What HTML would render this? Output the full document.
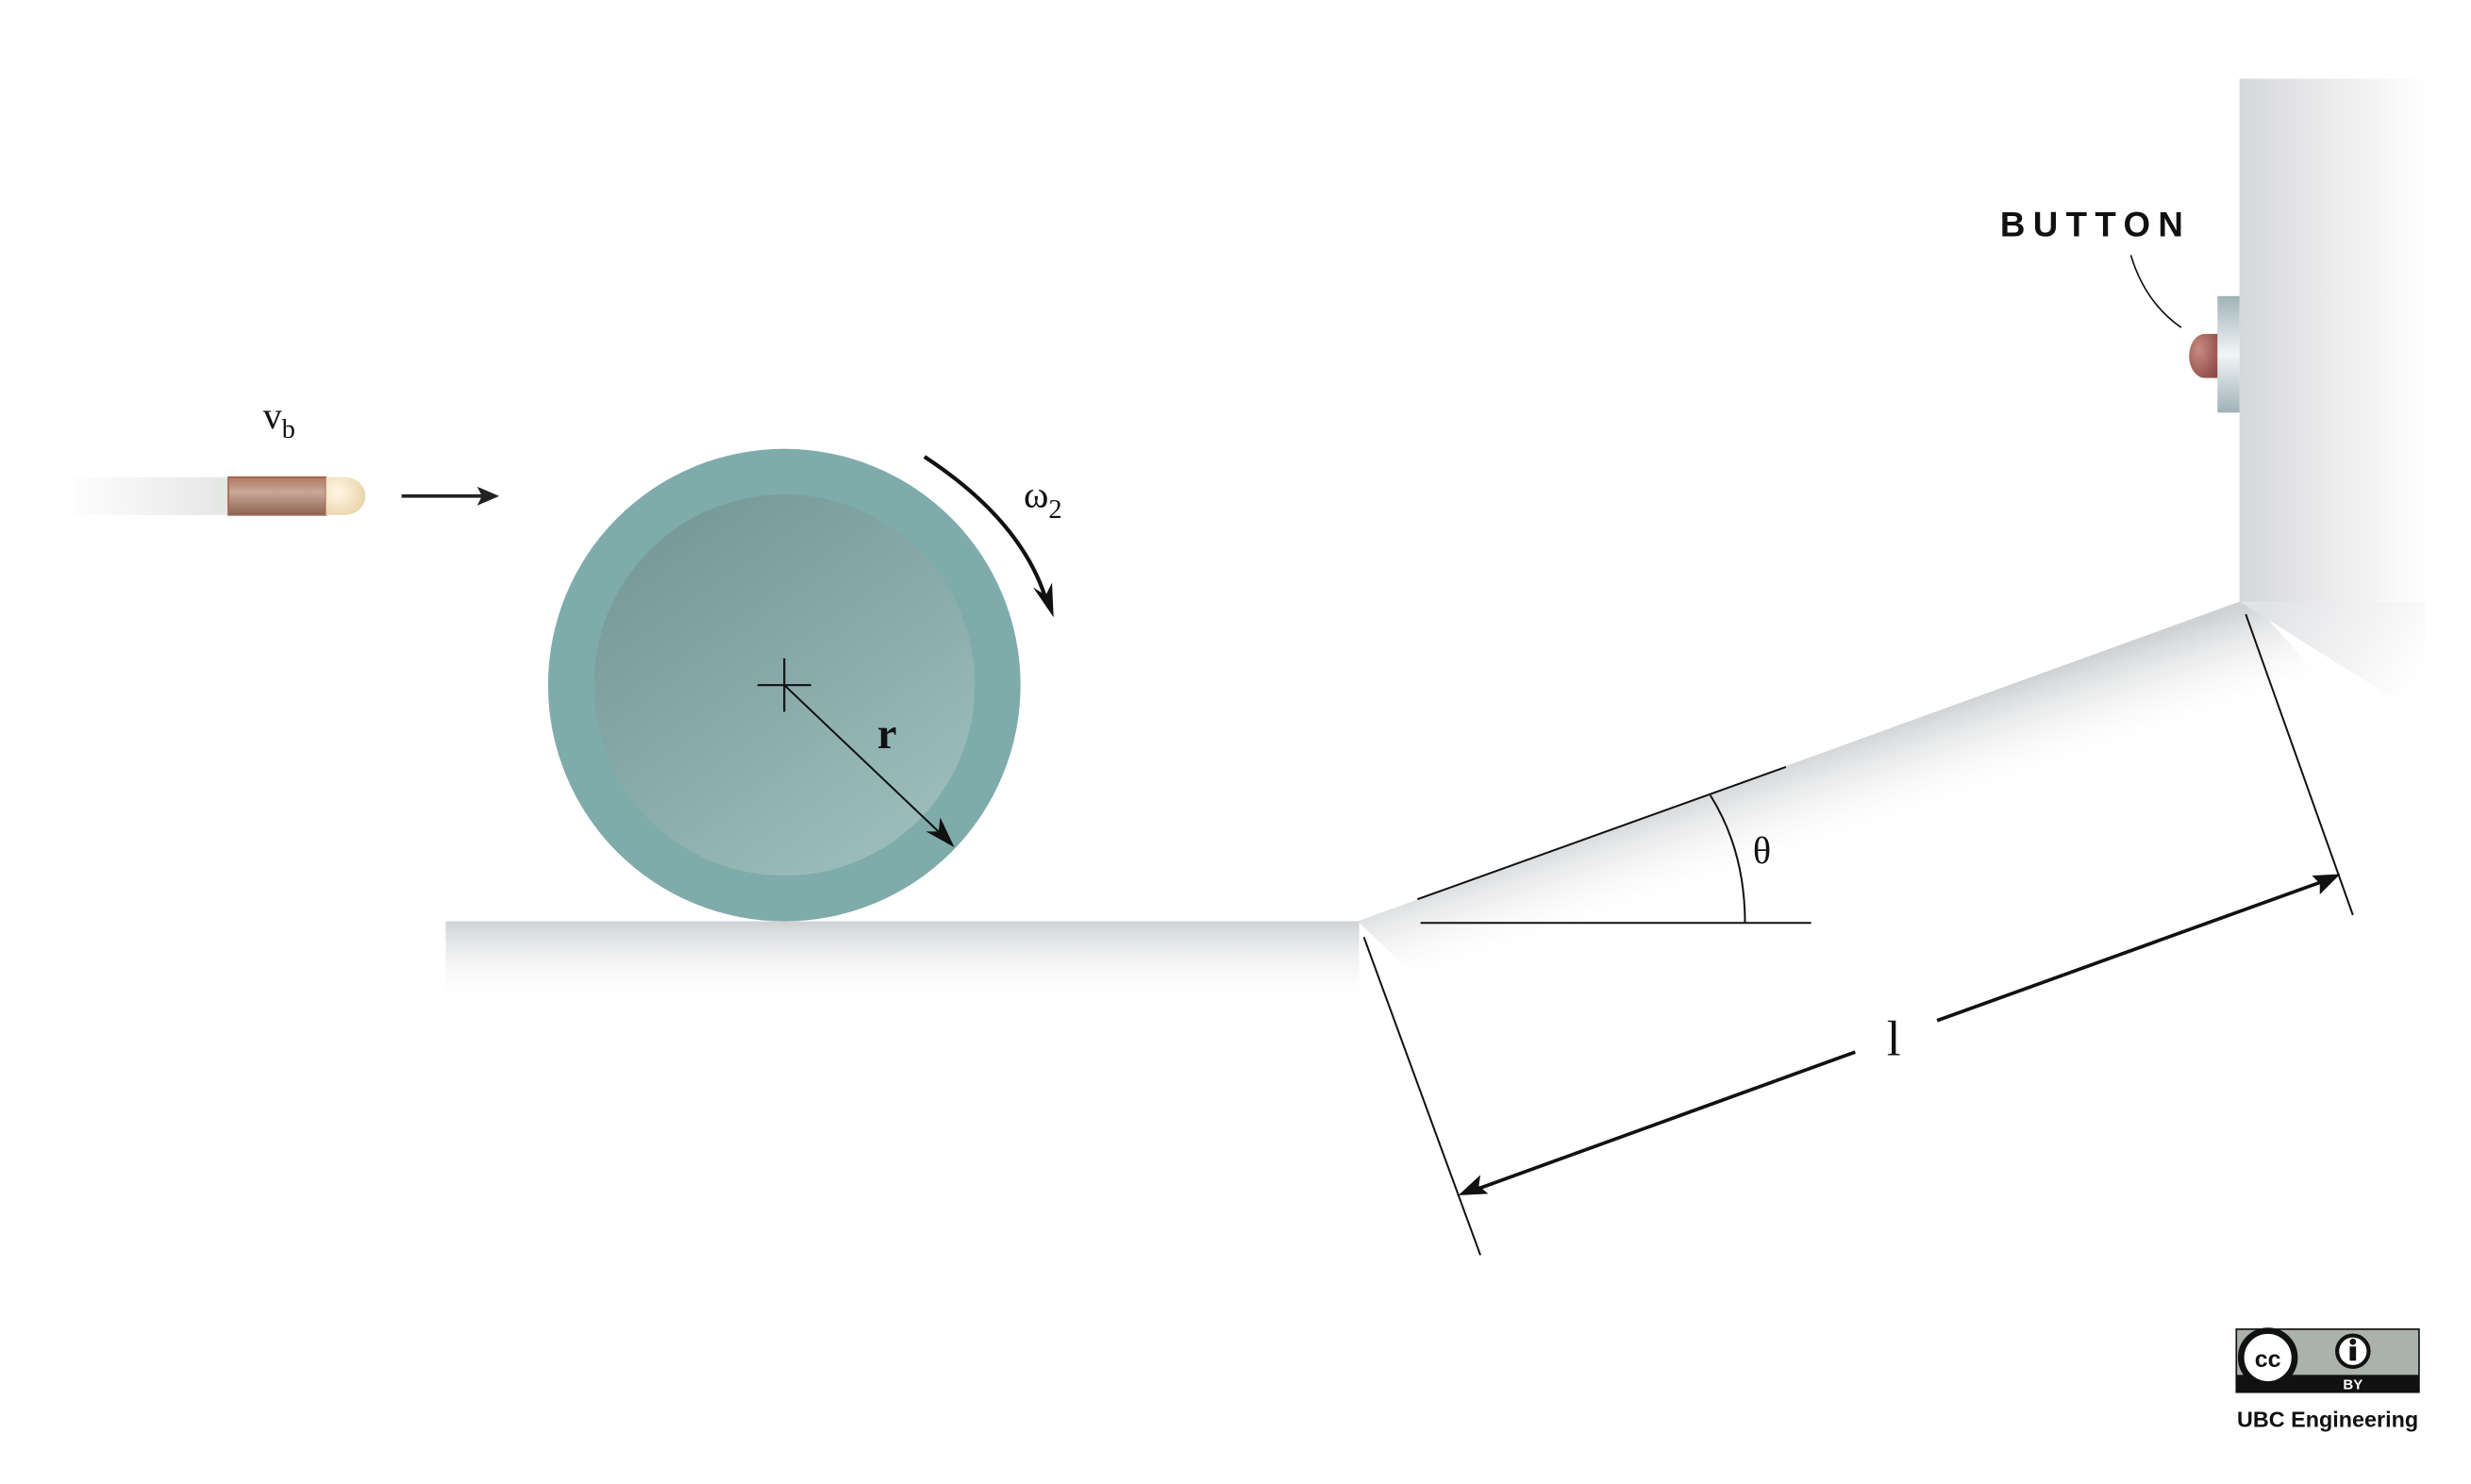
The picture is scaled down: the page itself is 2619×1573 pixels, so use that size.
<!DOCTYPE html>
<html><head><meta charset="utf-8"><style>
html,body{margin:0;padding:0;background:#fff;}
svg{display:block;}
</style></head><body>
<svg width="2619" height="1573" viewBox="0 0 1569 942.3" preserveAspectRatio="none" xmlns="http://www.w3.org/2000/svg">
<defs>
<linearGradient id="trail" x1="0" x2="1" y1="0" y2="0"><stop offset="0" stop-color="#fff"/><stop offset="1" stop-color="#e4e6e4"/></linearGradient>
<linearGradient id="casing" x1="0" x2="0" y1="0" y2="1"><stop offset="0" stop-color="#b07a66"/><stop offset="0.4" stop-color="#c9a696"/><stop offset="1" stop-color="#8d6252"/></linearGradient>
<radialGradient id="tip" cx="0.3" cy="0.4" r="0.8"><stop offset="0" stop-color="#fff8e6"/><stop offset="1" stop-color="#e6cfa2"/></radialGradient>
<linearGradient id="inner" x1="0.2" y1="0.1" x2="0.8" y2="0.95"><stop offset="0" stop-color="#769b9a"/><stop offset="1" stop-color="#9cbdbc"/></linearGradient>
<linearGradient id="ground" x1="0" x2="0" y1="0" y2="1"><stop offset="0" stop-color="#cfd1d3"/><stop offset="1" stop-color="#fff" stop-opacity="0"/></linearGradient>
<linearGradient id="slope" gradientUnits="userSpaceOnUse" x1="1140" y1="480" x2="1160" y2="540"><stop offset="0" stop-color="#cfd1d3"/><stop offset="1" stop-color="#fff" stop-opacity="0"/></linearGradient>
<linearGradient id="wall" x1="0" x2="1" y1="0" y2="0"><stop offset="0" stop-color="#d6d7d9"/><stop offset="1" stop-color="#fff"/></linearGradient>
<linearGradient id="wshadow" gradientUnits="userSpaceOnUse" x1="1440" y1="385" x2="1530" y2="440"><stop offset="0" stop-color="#e2e3e5"/><stop offset="1" stop-color="#fff"/></linearGradient>
<linearGradient id="plate" x1="0" x2="0" y1="0" y2="1"><stop offset="0" stop-color="#9fb2b8"/><stop offset="0.5" stop-color="#f2f5f6"/><stop offset="1" stop-color="#9fb2b8"/></linearGradient>
<radialGradient id="knob" cx="0.35" cy="0.35" r="0.8"><stop offset="0" stop-color="#c98a84"/><stop offset="1" stop-color="#8e4a44"/></radialGradient>
</defs>

<g>
<rect x="40" y="303" width="106" height="24" fill="url(#trail)"/>
<rect x="145" y="303" width="62" height="24" fill="url(#casing)" stroke="#a3664e" stroke-width="1"/>
<path d="M207 303 H219 A13 12 0 0 1 219 327 H207 Z" fill="url(#tip)"/>
</g>
<g>
<line x1="255" y1="315" x2="306" y2="315" stroke="#222" stroke-width="2.2"/>
<path d="M317 315 L303 309 L306 315 L303 321 Z" fill="#222"/>
</g>
<text x="167" y="272" font-family="Liberation Serif, serif" font-size="24" fill="#111">v<tspan font-size="17" dy="6">b</tspan></text>

<rect x="283" y="585" width="580" height="52" fill="url(#ground)"/>
<path d="M862 585 L1422 382 L1430 382 L1500 460 L930 650 Z" fill="url(#slope)"/>
<path d="M1422 382 L1530 450 L1540 450 L1540 382 Z" fill="url(#wshadow)"/>
<rect x="1422" y="50" width="118" height="332" fill="url(#wall)"/>

<g>
<circle cx="498" cy="435" r="150" fill="#7fabab"/>
<circle cx="498" cy="435" r="121" fill="url(#inner)"/>
<line x1="481" y1="435" x2="515" y2="435" stroke="#111" stroke-width="1.3"/>
<line x1="498" y1="418" x2="498" y2="452" stroke="#111" stroke-width="1.3"/>
</g>
<g>
<line x1="498" y1="435" x2="598" y2="530" stroke="#111" stroke-width="1.2"/>
<path d="M606 538 L588 528 L596 528 L597 519 Z" fill="#111"/>
</g>
<text x="557" y="475" font-family="Liberation Serif, serif" font-weight="bold" font-size="28" fill="#111">r</text>
<g>
<path d="M587 290 Q648 330 664 380" fill="none" stroke="#111" stroke-width="2.5"/>
<path d="M669 392 L656 373 L664 378 L668 370 Z" fill="#111"/>
</g>
<text x="650" y="322" font-family="Liberation Serif, serif" font-size="24" fill="#111">ω<tspan font-size="17" dy="7">2</tspan></text>

<g stroke="#111" stroke-width="1.2" fill="none">
<line x1="900" y1="571" x2="1134" y2="487"/>
<line x1="902" y1="586" x2="1150" y2="586"/>
<path d="M1086 505 Q1108 540 1108 586"/>
</g>
<text x="1113" y="548" font-family="Liberation Serif, serif" font-size="24" fill="#111">θ</text>

<g stroke="#111" fill="none">
<line x1="866" y1="595" x2="940" y2="797" stroke-width="1.2"/>
<line x1="1426" y1="390" x2="1494" y2="581" stroke-width="1.2"/>
<line x1="938" y1="755" x2="1178" y2="668" stroke-width="2.2"/>
<line x1="1230" y1="648" x2="1474" y2="560" stroke-width="2.2"/>
</g>
<path d="M926 759 L940 746 L939 753 L945 758 Z" fill="#111"/>
<path d="M1486 555 L1468 556 L1473 561 L1473 568 Z" fill="#111"/>
<text x="1198" y="670" font-family="Liberation Serif, serif" font-size="32" fill="#111">l</text>

<text x="1270" y="150" font-family="Liberation Sans, sans-serif" font-weight="bold" font-size="22" letter-spacing="5" fill="#111">BUTTON</text>
<path d="M1353 162 Q1362 192 1385 208" fill="none" stroke="#111" stroke-width="1"/>
<rect x="1408" y="188" width="14" height="74" fill="url(#plate)"/>
<path d="M1408 212 H1400 A10 14 0 0 0 1400 240 H1408 Z" fill="url(#knob)"/>

<g>
<rect x="1420" y="844" width="116" height="40" fill="#aab2ab" stroke="#111" stroke-width="1"/>
<rect x="1420" y="873" width="116" height="11" fill="#111"/>
<circle cx="1440" cy="862" r="17" fill="#fff" stroke="#111" stroke-width="4"/>
<text x="1440" y="868" text-anchor="middle" font-family="Liberation Sans, sans-serif" font-weight="bold" font-size="15" fill="#111">cc</text>
<circle cx="1494" cy="858" r="10" fill="#fff" stroke="#111" stroke-width="2.5"/>
<circle cx="1494" cy="852" r="2" fill="#111"/>
<rect x="1492" y="855" width="4" height="9" fill="#111"/>
<text x="1494" y="882" text-anchor="middle" font-family="Liberation Sans, sans-serif" font-weight="bold" font-size="9" fill="#fff">BY</text>
</g>
<text x="1478" y="906" text-anchor="middle" font-family="Liberation Sans, sans-serif" font-weight="bold" font-size="14" fill="#111">UBC Engineering</text>
</svg>
</body></html>
